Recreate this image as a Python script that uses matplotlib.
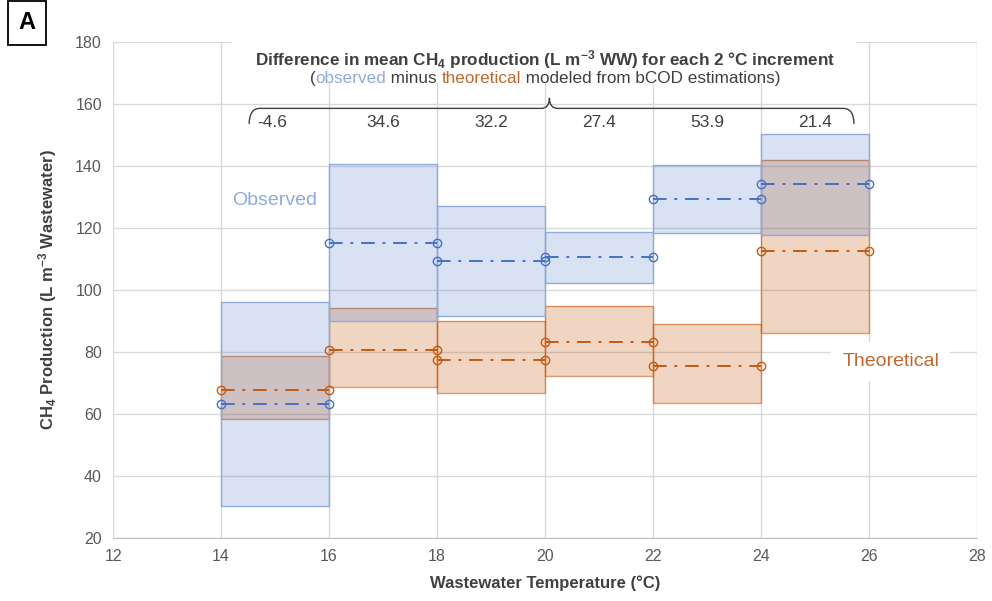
import matplotlib
matplotlib.use("Agg")
import matplotlib.pyplot as plt
from matplotlib.patches import Rectangle, PathPatch
from matplotlib.path import Path
from matplotlib.offsetbox import TextArea, HPacker, AnnotationBbox

plt.rcParams["font.family"] = ["Liberation Sans", "DejaVu Sans"]
plt.rcParams["mathtext.default"] = "regular"

# 2 degC temperature bins
bin_lo = [14, 16, 18, 20, 22, 24]
bin_hi = [16, 18, 20, 22, 24, 26]

# observed CH4 production (L m-3 WW): mean and range
obs_mean = [63.3, 115.3, 109.4, 110.5, 129.3, 134.1]
obs_low = [30.3, 90.0, 91.6, 102.3, 118.4, 117.7]
obs_high = [96.2, 140.6, 127.0, 118.7, 140.3, 150.2]

# theoretical (bCOD model): mean and range
theo_mean = [67.8, 80.7, 77.3, 83.1, 75.4, 112.7]
theo_low = [58.5, 68.8, 66.6, 72.4, 63.5, 86.0]
theo_high = [78.7, 94.2, 90.0, 94.9, 89.1, 141.9]

diff_labels = ["-4.6", "34.6", "32.2", "27.4", "53.9", "21.4"]

x_ticks = list(range(12, 29, 2))
y_ticks = list(range(20, 181, 20))

BLUE = "#4472C4"
BLUE_EDGE = "#8FAADC"
ORANGE = "#C55A11"
ORANGE_TXT = "#C2682E"
TXT = "#404040"

fig = plt.figure(figsize=(9.92, 6.01), dpi=100)
ax = fig.add_axes([0.114, 0.105, 0.871, 0.825])
ax.set_xlim(12, 28)
ax.set_ylim(20, 180)
ax.set_xticks(x_ticks)
ax.set_yticks(y_ticks)
ax.grid(True, color="#d9d9d9", linewidth=1.0, zorder=0)
ax.set_axisbelow(True)
for s in ["top", "right", "left"]:
    ax.spines[s].set_visible(False)
ax.spines["bottom"].set_color("#bfbfbf")
ax.tick_params(length=0, labelsize=11.5, labelcolor="#595959", pad=8)

# range boxes: theoretical underneath, observed on top
for lo, hi, a, b in zip(bin_lo, bin_hi, theo_low, theo_high):
    ax.add_patch(Rectangle((lo, a), hi - lo, b - a, facecolor=ORANGE, alpha=0.25,
                           edgecolor="none", zorder=2))
    ax.add_patch(Rectangle((lo, a), hi - lo, b - a, facecolor="none",
                           edgecolor=ORANGE, alpha=0.6, linewidth=1.0, zorder=2.1))
for lo, hi, a, b in zip(bin_lo, bin_hi, obs_low, obs_high):
    ax.add_patch(Rectangle((lo, a), hi - lo, b - a, facecolor=BLUE, alpha=0.2,
                           edgecolor="none", zorder=3))
    ax.add_patch(Rectangle((lo, a), hi - lo, b - a, facecolor="none",
                           edgecolor=BLUE_EDGE, linewidth=1.0, zorder=3.1))

# mean lines
dash = (0, (7, 4, 1.5, 4))
for lo, hi, m in zip(bin_lo, bin_hi, theo_mean):
    ax.plot([lo, hi], [m, m], color=ORANGE, linestyle=dash, linewidth=1.4,
            marker="o", markersize=6, markerfacecolor="none", markeredgewidth=1.0, zorder=5)
for lo, hi, m in zip(bin_lo, bin_hi, obs_mean):
    ax.plot([lo, hi], [m, m], color=BLUE, linestyle=dash, linewidth=1.4,
            marker="o", markersize=6, markerfacecolor="none", markeredgewidth=1.0, zorder=5)

# white panel behind the header
ax.add_patch(Rectangle((14.2, 166.8), 11.55, 13.6, facecolor="white", edgecolor="none",
                       zorder=1, clip_on=False))
ax.text(20, 174.2, "Difference in mean CH$_4$ production (L m$^{-3}$ WW) for each 2 °C increment",
        ha="center", va="center", fontsize=12.3, fontweight="bold", color=TXT, zorder=6)

parts = [("(", TXT), ("observed", BLUE_EDGE), (" minus ", TXT), ("theoretical", ORANGE_TXT),
         (" modeled from bCOD estimations)", TXT)]
boxes = [TextArea(t, textprops=dict(color=c, fontsize=12.3)) for t, c in parts]
pack = HPacker(children=boxes, align="baseline", pad=0, sep=0)
ab = AnnotationBbox(pack, (20, 168.3), xycoords="data", frameon=False, box_alignment=(0.5, 0.5),
                    zorder=6)
ax.add_artist(ab)

# curly brace over the differences
xl, xr, xm = 14.52, 25.72, 20.08
yb, yt, ytip = 153.6, 158.6, 162.0
verts = [(xl, yb), (xl, yt), (xl + 0.2, yt),
         (xm - 0.15, yt), (xm, yt), (xm, ytip),
         (xm, yt), (xm + 0.15, yt),
         (xr - 0.2, yt), (xr, yt), (xr, yb)]
codes = [Path.MOVETO, Path.CURVE3, Path.CURVE3,
         Path.LINETO, Path.CURVE3, Path.CURVE3,
         Path.CURVE3, Path.CURVE3,
         Path.LINETO, Path.CURVE3, Path.CURVE3]
ax.add_patch(PathPatch(Path(verts, codes), facecolor="none", edgecolor="#404040",
                       linewidth=1.0, zorder=6))

for lo, hi, lab in zip(bin_lo, bin_hi, diff_labels):
    xc = (lo + hi) / 2 if lo > 14 else 14.95
    ax.text(xc, 154.0, lab, ha="center", va="center", fontsize=12.5, color=TXT, zorder=6)

# series labels
ax.text(15.0, 129.0, "Observed", ha="center", va="center", fontsize=14, color=BLUE_EDGE, zorder=6)
ax.text(26.4, 76.8, "Theoretical", ha="center", va="center", fontsize=14, color=ORANGE_TXT,
        zorder=6, bbox=dict(facecolor="white", edgecolor="none", pad=8))

ax.set_xlabel("Wastewater Temperature (°C)", fontsize=12, fontweight="bold", color=TXT, labelpad=8)
ax.set_ylabel("CH$_4$ Production (L m$^{-3}$ Wastewater)", fontsize=12, fontweight="bold",
              color=TXT, labelpad=12)

# panel letter
fig.text(0.0275, 0.962, "A", ha="center", va="center", fontsize=17, fontweight="bold",
         bbox=dict(facecolor="white", edgecolor="black", linewidth=1.3,
                   boxstyle="square,pad=0.45"))

fig.savefig("out.png", dpi=100)
